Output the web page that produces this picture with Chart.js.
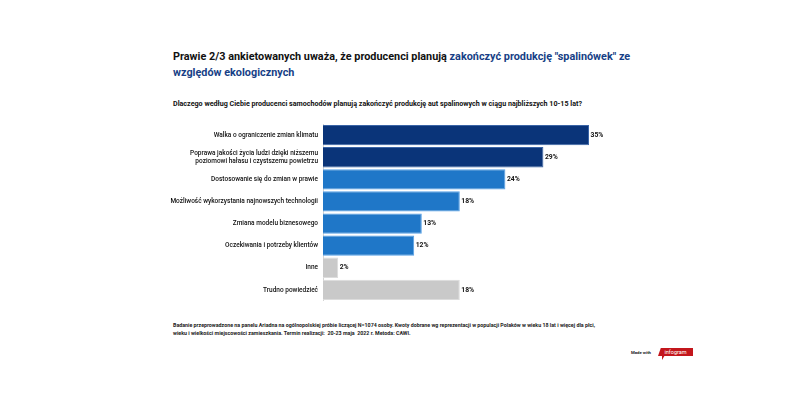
<!DOCTYPE html>
<html><head><meta charset="utf-8">
<script src="https://cdn.jsdelivr.net/npm/chart.js@4/dist/chart.umd.min.js"></script>
<style>
html,body{margin:0;padding:0;background:#fff;width:800px;height:400px;overflow:hidden;font-family:Roboto,"Noto Sans",sans-serif;}
#title{position:absolute;left:173px;top:49px;width:480px;font-size:10.85px;font-weight:700;line-height:16px;color:#111;}
#title span{color:#173f86;}
#sub{position:absolute;left:173px;top:98.5px;font-size:7.15px;font-weight:700;color:#111;white-space:nowrap;}
#wrap{position:absolute;left:160px;top:115px;width:480px;height:195px;}
#foot{position:absolute;left:173px;top:321px;font-size:5.3px;font-weight:700;line-height:8px;color:#222;white-space:nowrap;}
#made{position:absolute;left:631px;top:349.5px;font-size:4.3px;font-weight:700;color:#222;}
#logo{position:absolute;left:658px;top:348px;width:35px;height:8px;background:#c3161c;color:#fff;font-size:5.5px;line-height:8px;text-align:center;clip-path:polygon(8% 0,100% 0,100% 100%,0 100%);}
#tail{position:absolute;left:662px;top:355px;width:0;height:0;border-left:3px solid #c3161c;border-bottom:5px solid transparent;}
</style></head>
<body>
<div id="title">Prawie 2/3 ankietowanych uważa, że producenci planują <span>zakończyć produkcję "spalinówek" ze względów ekologicznych</span></div>
<div id="sub">Dlaczego według Ciebie producenci samochodów planują zakończyć produkcję aut spalinowych w ciągu najbliższych 10-15 lat?</div>
<div id="wrap"><canvas id="c"></canvas></div>
<div id="foot">Badanie przeprowadzone na panelu Ariadna na ogólnopolskiej próbie liczącej N=1074 osoby. Kwoty dobrane wg reprezentacji w populacji Polaków w wieku 18 lat i więcej dla płci,<br>wieku i wielkości miejscowości zamieszkania. Termin realizacji:&nbsp; 20-23 maja&nbsp; 2022 r. Metoda: CAWI.</div>
<div id="made">Made with</div>
<div id="logo">infogram</div>
<div id="tail"></div>
<script>
const categories = [
  "Walka o ograniczenie zmian klimatu",
  ["Poprawa jakości życia ludzi dzięki niższemu", "poziomowi hałasu i czystszemu powietrzu"],
  "Dostosowanie się do zmian w prawie",
  "Możliwość wykorzystania najnowszych technologii",
  "Zmiana modelu biznesowego",
  "Oczekiwania i potrzeby klientów",
  "Inne",
  "Trudno powiedzieć"
];
const values = [35, 29, 24, 18, 13, 12, 2, 18];
const barColors = ["#0a3479", "#0a3479", "#1f77c8", "#1f77c8", "#1f77c8", "#1f77c8", "#c9c9c9", "#c9c9c9"];
const borderColors = ["#3a64a6", "#3a64a6", "#55a0e6", "#55a0e6", "#55a0e6", "#55a0e6", "#dcdcdc", "#dcdcdc"];

const valueLabels = {
  id: 'valueLabels',
  afterDatasetsDraw(chart) {
    const ctx = chart.ctx;
    const meta = chart.getDatasetMeta(0);
    ctx.save();
    ctx.font = '700 6.8px Roboto, sans-serif';
    ctx.fillStyle = '#111';
    ctx.textBaseline = 'middle';
    ctx.textAlign = 'left';
    meta.data.forEach((bar, i) => {
      ctx.fillText(values[i] + '%', bar.x + 1.5, bar.y);
    });
    ctx.restore();
  }
};

new Chart(document.getElementById('c'), {
  type: 'bar',
  data: {
    labels: categories,
    datasets: [{
      data: values,
      backgroundColor: barColors,
      borderColor: borderColors,
      borderWidth: 1,
      barPercentage: 0.92,
      categoryPercentage: 1
    }]
  },
  options: {
    indexAxis: 'y',
    responsive: true,
    maintainAspectRatio: false,
    animation: false,
    layout: { padding: { top: 6.8, bottom: 3, right: 13, left: 0 } },
    plugins: { legend: { display: false }, tooltip: { enabled: false } },
    scales: {
      x: { display: false, min: 0, max: 40 },
      y: {
        afterFit(scale) { scale.width = 163; },
        grid: { display: false, drawTicks: false },
        border: { display: true, color: '#d4d4d4', width: 1 },
        ticks: {
          color: '#111',
          padding: 5,
          font: { family: 'Roboto, sans-serif', size: 6.5, weight: '500', lineHeight: 1.25 }
        }
      }
    }
  },
  plugins: [valueLabels]
});
</script>
</body></html>
